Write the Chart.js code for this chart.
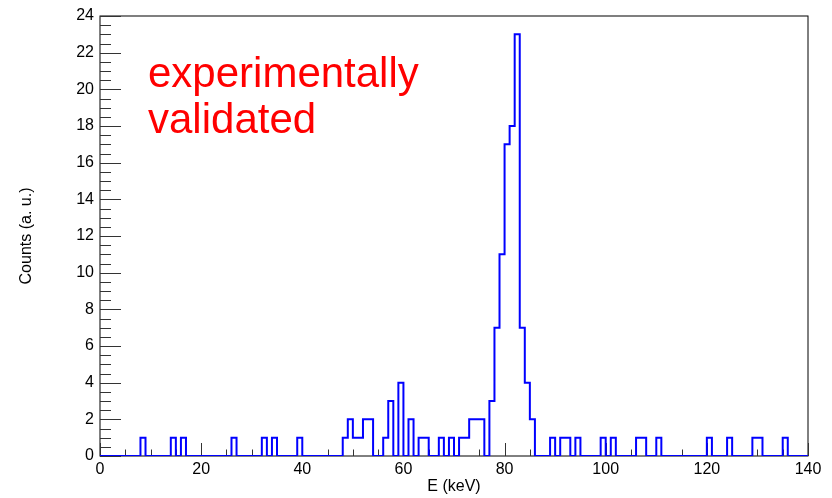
<!DOCTYPE html>
<html>
<head>
<meta charset="utf-8">
<script src="https://cdn.jsdelivr.net/npm/chart.js@4"></script>
<style>
  html, body { margin: 0; padding: 0; background: #fff; }
  #wrap { width: 832px; height: 498px; }
</style>
</head>
<body>
<div id="wrap"><canvas id="myChart"></canvas></div>
<script>
// 1 keV bins from 0 to 140 keV
const binLow = [];
for (var i = 0; i < 140; i++) binLow.push(i);

const counts = [
    0, 0, 0, 0, 0, 0, 0, 0, 1, 0,      // 0-9
    0, 0, 0, 0, 1, 0, 1, 0, 0, 0,      // 10-19
    0, 0, 0, 0, 0, 0, 1, 0, 0, 0,      // 20-29
    0, 0, 1, 0, 1, 0, 0, 0, 0, 1,      // 30-39
    0, 0, 0, 0, 0, 0, 0, 0, 1, 2,      // 40-49
    1, 1, 2, 2, 0, 0, 1, 3, 0, 4,      // 50-59
    0, 2, 0, 1, 1, 0, 0, 1, 0, 1,      // 60-69
    0, 1, 1, 2, 2, 2, 0, 3, 7, 11,     // 70-79
    17, 18, 23, 7, 4, 2, 0, 0, 0, 1,   // 80-89
    0, 1, 1, 0, 1, 0, 0, 0, 0, 1,      // 90-99
    0, 1, 0, 0, 0, 0, 1, 1, 0, 0,      // 100-109
    1, 0, 0, 0, 0, 0, 0, 0, 0, 0,      // 110-119
    1, 0, 0, 0, 1, 0, 0, 0, 0, 1,      // 120-129
    1, 0, 0, 0, 0, 1, 0, 0, 0, 0       // 130-139
];

const xTicks = [0, 20, 40, 60, 80, 100, 120, 140];
const yTicks = [0, 2, 4, 6, 8, 10, 12, 14, 16, 18, 20, 22, 24];
const note = ['experimentally', 'validated'];

const FONT = "'Liberation Sans', Arial, Helvetica, sans-serif";

function histPoints() {
    var pts = [];
    for (var i = 0; i < binLow.length; i++) {
        pts.push({x: binLow[i], y: counts[i]});
    }
    // closing edge of the last bin
    pts.push({x: binLow[binLow.length - 1] + 1, y: counts[counts.length - 1]});
    return pts;
}

// ROOT-like frame with inward ticks
const rootFrame = {
    id: 'rootFrame',
    beforeDatasetsDraw(chart) {
        const c = chart.ctx;
        const a = chart.chartArea;
        const xs = chart.scales.x, ys = chart.scales.y;
        c.save();
        c.strokeStyle = '#000';
        c.lineWidth = 1;
        c.strokeRect(a.left, a.top, a.right - a.left, a.bottom - a.top);

        c.strokeStyle = '#333';
        c.beginPath();
        for (var v = 0; v <= 24; v += 0.5) {
            var py = Math.round(ys.getPixelForValue(v)) + 0.5;
            var len = (v % 2 === 0) ? 21 : 11;
            c.moveTo(a.left, py);
            c.lineTo(a.left + len, py);
        }
        for (var u = 0; u <= 140; u += 5) {
            var px = Math.round(xs.getPixelForValue(u)) + 0.5;
            var l2 = (u % 20 === 0) ? 13 : 6.5;
            c.moveTo(px, a.bottom);
            c.lineTo(px, a.bottom - l2);
        }
        c.stroke();
        c.restore();
    },
    afterDatasetsDraw(chart) {
        const c = chart.ctx;
        c.save();
        c.fillStyle = '#ff0000';
        c.font = '42px ' + FONT;
        c.textBaseline = 'alphabetic';
        c.fillText(note[0], 148, 87);
        c.fillText(note[1], 148, 133);
        c.restore();
    }
};

new Chart(document.getElementById('myChart'), {
    type: 'line',
    data: {
        datasets: [{
            data: histPoints(),
            stepped: true,
            borderColor: '#0000ff',
            backgroundColor: 'transparent',
            borderWidth: 2,
            pointRadius: 0,
            fill: false
        }]
    },
    options: {
        responsive: true,
        maintainAspectRatio: false,
        animation: false,
        layout: { padding: { top: 16, right: 24, left: 0, bottom: 0 } },
        plugins: {
            legend: { display: false },
            tooltip: { enabled: false }
        },
        scales: {
            x: {
                type: 'linear',
                min: 0,
                max: 140,
                afterFit(scale) { scale.height = 42; },
                afterBuildTicks(scale) { scale.ticks = xTicks.map(v => ({value: v})); },
                grid: { display: false, drawTicks: false },
                border: { display: false },
                ticks: {
                    padding: 4,
                    color: '#000',
                    maxRotation: 0,
                    font: { family: FONT, size: 16 }
                },
                title: {
                    display: true,
                    text: 'E (keV)',
                    color: '#000',
                    padding: { top: 0, bottom: 2 },
                    font: { family: FONT, size: 16 }
                }
            },
            y: {
                type: 'linear',
                min: 0,
                max: 24,
                afterFit(scale) { scale.width = 100; },
                afterBuildTicks(scale) { scale.ticks = yTicks.map(v => ({value: v})); },
                grid: { display: false, drawTicks: false },
                border: { display: false },
                ticks: {
                    padding: 6,
                    color: '#000',
                    font: { family: FONT, size: 16 }
                },
                title: {
                    display: true,
                    text: 'Counts (a. u.)',
                    color: '#000',
                    padding: { top: 17, bottom: 0 },
                    font: { family: FONT, size: 16 }
                }
            }
        }
    },
    plugins: [rootFrame]
});
</script>
</body>
</html>
